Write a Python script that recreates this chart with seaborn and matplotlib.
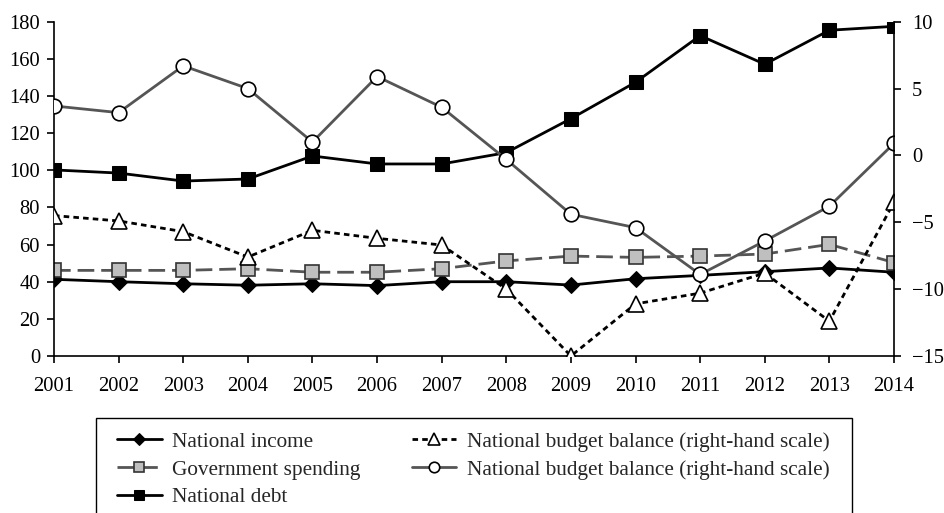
import matplotlib
matplotlib.use("Agg")
import matplotlib.pyplot as plt
from matplotlib.patches import Rectangle
import seaborn as sns
import pandas as pd

years = list(range(2001, 2015))
national_income = [41.3, 40.0, 38.9, 38.1, 38.9, 37.9, 40.0, 40.0, 38.2, 41.6, 43.4, 45.4, 47.4, 45.1]
government_spending = [46.1, 46.1, 46.1, 47.0, 45.1, 45.1, 47.0, 51.2, 53.8, 53.1, 53.8, 54.9, 60.1, 50.3]
national_debt = [100.2, 98.5, 94.2, 95.3, 107.7, 103.4, 103.4, 109.5, 127.8, 147.4, 172.5, 157.1, 175.4, 177.5]
budget_balance_tri = [-4.5, -4.9, -5.7, -7.6, -5.6, -6.2, -6.7, -10.0, -15.0, -11.1, -10.3, -8.8, -12.4, -3.5]
budget_balance_circ = [3.7, 3.2, 6.7, 5.0, 1.0, 5.9, 3.6, -0.3, -4.4, -5.4, -8.9, -6.4, -3.8, 0.9]

labels = ["National income", "Government spending", "National debt",
          "National budget balance (right-hand scale)",
          "National budget balance (right-hand scale)"]
left_ticks = [0, 20, 40, 60, 80, 100, 120, 140, 160, 180]
right_ticks = [-15, -10, -5, 0, 5, 10]

sns.set_style("white")
plt.rcParams['font.family'] = ['Liberation Serif', 'DejaVu Serif']
plt.rcParams['axes.unicode_minus'] = True

W, H = 944, 513
fig = plt.figure(figsize=(9.44, 5.13), dpi=100)
ax = fig.add_axes([54/W, 1-356/H, (894-54)/W, (356-21.7)/H])
ax2 = ax.twinx()

df = pd.DataFrame({"year": years, "inc": national_income, "gov": government_spending,
                   "debt": national_debt, "tri": budget_balance_tri, "circ": budget_balance_circ})

sns.lineplot(data=df, x="year", y="inc", ax=ax, color="black", lw=2, marker="D",
             markersize=8, markerfacecolor="black", markeredgecolor="black", label=labels[0], legend=False)
sns.lineplot(data=df, x="year", y="gov", ax=ax, color="#555555", lw=2, marker="s",
             markersize=10, markerfacecolor="#bfbfbf", markeredgecolor="#333333", markeredgewidth=1.2,
             dashes=(6, 2.5), label=labels[1], legend=False)
sns.lineplot(data=df, x="year", y="debt", ax=ax, color="black", lw=2, marker="s",
             markersize=10, markerfacecolor="black", markeredgecolor="black", label=labels[2], legend=False)
sns.lineplot(data=df, x="year", y="tri", ax=ax2, color="black", lw=2, marker="^",
             markersize=11.5, markerfacecolor="white", markeredgecolor="black", markeredgewidth=1.2,
             dashes=(2, 1.5), label=labels[3], legend=False)
sns.lineplot(data=df, x="year", y="circ", ax=ax2, color="#555555", lw=2, marker="o",
             markersize=10.5, markerfacecolor="white", markeredgecolor="black", markeredgewidth=1.2,
             label=labels[4], legend=False)

ax.set_xlim(2001, 2014)
ax.set_ylim(0, 180)
ax2.set_ylim(-15, 10)
ax.set_xticks(years)
ax.set_xticklabels([str(y) for y in years])
ax.set_yticks(left_ticks)
ax2.set_yticks(right_ticks)
ax.set_xlabel("")
ax.set_ylabel("")
ax2.set_xlabel("")
ax2.set_ylabel("")

for a in (ax, ax2):
    for s in a.spines.values():
        s.set_color("black")
        s.set_linewidth(1.2)
    a.spines["top"].set_visible(False)
ax.spines["right"].set_visible(False)
ax2.spines["left"].set_visible(False)
ax2.spines["bottom"].set_visible(False)

ax.tick_params(axis="both", which="major", direction="out", length=5, width=1.2,
               labelsize=14.8, color="black", labelcolor="black", left=True, bottom=True, pad=5)
ax.tick_params(axis="x", pad=10)
ax2.tick_params(axis="y", direction="out", length=5, width=1.2, labelsize=14.8,
                color="black", labelcolor="black", right=True, pad=8)

# legend frame (box runs off the bottom of the figure)
fig.patches.append(Rectangle((96/W, -0.05), (852-96)/W, (1-418/H) + 0.05,
                             transform=fig.transFigure, facecolor="white",
                             edgecolor="black", linewidth=1.0, zorder=0))

h1, l1 = ax.get_legend_handles_labels()
h2, l2 = ax2.get_legend_handles_labels()
leg = fig.legend(h1 + h2, l1 + l2, ncol=2, loc="upper left",
                 bbox_to_anchor=(117/W, 1-432/H), borderaxespad=0, frameon=False,
                 fontsize=15.3, handlelength=2.1, markerscale=0.72,
                 handletextpad=0.5, columnspacing=2.4, labelspacing=0.37, borderpad=0)

fig.savefig("out.png", dpi=100)
